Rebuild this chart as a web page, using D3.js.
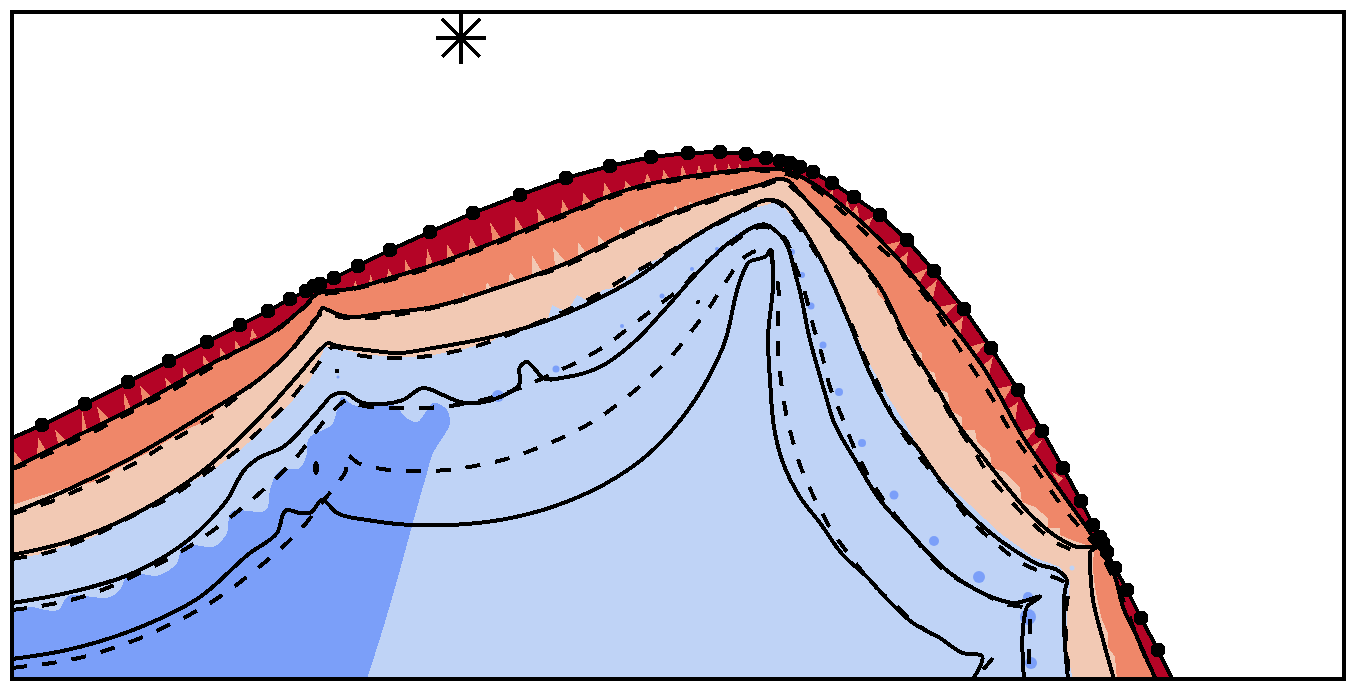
<!DOCTYPE html>
<html><head><meta charset="utf-8">
<script src="https://cdn.jsdelivr.net/npm/d3@7"></script>
<style>html,body{margin:0;padding:0;background:#fff}svg{display:block}</style>
</head><body><svg id="c" width="1357" height="691"></svg>
<script>
// Data, in plot units
const xDomain=[12,1344], yDomain=[679,12];
const starPoint=[461,38];
const starArms=[[-25,0,25,0],[0,-26,0,26],[-19,-19,19,19],[-19,19,19,-19]];
const surfaceDots=[[42,425],[85,404],[128,382],[169,361],[207,342],[240,325],[268,311],[290,299],[306,291],[314,286],[320,284],[334,278],[358,266],[390,250],[430,232],[473,213],[520,195],[566,178],[610,166],[651,157],[688,153],[720,152],[746,154],[766,158],[780,161],[790,163],[800,167],[813,172],[832,183],[854,197],[880,215],[907,240],[934,271],[964,309],[991,348],[1018,390],[1042,431],[1063,468],[1081,501],[1093,525],[1100,537],[1103,543],[1107,552],[1115,568],[1127,590],[1141,618],[1158,650]];
const surfaceEnds=[[12,438],[1172,679]];
const solid1=[[12,469],[73,438],[133,408],[213,363],[273,332],[305,306],[317,294],[322,292],[330,291],[350,289],[390,278],[433,265],[500,240],[567,213],[633,188],[700,175],[767,169],[785,170],[793,173],[850,212],[890,250],[940,310],[983,367],[1023,437],[1067,500],[1093,537],[1115,577],[1123,607],[1137,637],[1153,673],[1156,679]];
const solid2=[[12,513],[67,490],[133,457],[200,417],[267,373],[300,340],[318,316],[323,308],[328,310],[337,314],[350,317],[377,314],[433,307],[500,287],[567,263],[633,230],[700,203],[760,185],[783,179],[790,182],[797,190],[840,237],[880,287],[907,340],[940,393],[957,423],[980,453],[1007,487],[1033,517],[1057,537],[1077,547],[1095,548],[1090,552],[1090,560],[1093,600],[1103,640],[1114,679]];
const solid3=[[12,555],[67,542],[133,515],[200,473],[267,410],[300,373],[323,347],[328,343],[334,345],[367,350],[400,353],[433,348],[500,335],[567,313],[633,280],[700,233],[733,215],[777,201],[786,206],[797,220],[823,263],[847,317],[873,380],[895,420],[917,447],[940,480],[963,507],[987,530],[1017,552],[1040,565],[1057,570],[1067,580],[1065,590],[1064,620],[1068,679]];
const solid4=[[12,603],[67,593],[133,573],[200,530],[227,500],[247,467],[257,459],[283,447],[310,420],[325,403],[330,397],[345,393],[360,402],[383,404],[403,400],[423,388],[443,395],[460,402],[500,397],[520,383],[520,367],[527,362],[533,367],[543,378],[567,377],[600,367],[633,343],[667,307],[700,270],[733,240],[767,225],[780,235],[797,280],[810,340],[827,400],[833,420],[857,463],[880,500],[910,533],[950,573],[973,588],[1000,600],[1013,603],[1040,597],[1027,607],[1024,620],[1024,679]];
const solid5=[[12,659],[67,650],[133,630],[200,597],[250,553],[277,533],[287,510],[300,513],[310,513],[322,500],[337,513],[367,520],[410,525],[450,525],[500,520],[555,506],[605,484],[645,457],[663,440],[695,400],[723,347],[743,273],[748,263],[767,255],[770,250],[773,270],[768,340],[770,380],[775,433],[782,460],[800,497],[820,523],[843,555],[867,577],[890,602],[913,623],[940,638],[963,653],[982,656],[973,679]];
const dash1=[[12,469],[18,467],[48,454],[77,440],[105,426],[133,411],[162,396],[190,380],[217,364],[243,347],[270,335],[300,311],[318,296],[340,292],[390,280],[433,267],[500,242],[567,215],[633,190],[700,177],[767,171],[790,175],[845,214],[885,252],[903,267],[922,292],[940,317],[957,345],[975,372],[992,398],[1008,427],[1026,453],[1043,479],[1062,506],[1082,530],[1097,548],[1115,582],[1126,607],[1138,640],[1155,678]];
const dash2=[[12,514],[18,512],[50,502],[78,490],[108,477],[137,462],[163,446],[192,429],[218,412],[243,392],[268,372],[292,350],[312,322],[325,312],[340,317],[370,318],[402,314],[433,308],[463,300],[493,289],[567,265],[633,232],[700,205],[760,187],[783,181],[797,192],[840,240],[880,290],[907,343],[940,397],[955,423],[972,448],[989,475],[1009,499],[1032,523],[1057,543],[1083,554]];
const dash3=[[12,559],[18,558],[50,552],[80,541],[110,528],[138,513],[167,499],[193,482],[220,463],[245,444],[268,422],[290,400],[310,375],[325,355],[331,348],[357,355],[388,358],[420,357],[452,352],[483,344],[513,333],[537,323],[572,308],[600,293],[628,276],[655,261],[682,244],[710,228],[730,218],[777,202],[797,225],[812,247],[827,272],[840,300],[853,328],[865,358],[880,388],[893,417],[918,455],[947,490],[968,518],[992,540],[1017,560],[1045,574],[1065,583],[1065,620],[1066,637],[1069,679]];
const dash4=[[12,610],[20,609],[52,604],[82,597],[112,586],[142,572],[170,558],[198,541],[223,523],[248,503],[272,482],[295,459],[315,433],[335,409],[347,400],[360,405],[393,408],[425,408],[457,405],[490,398],[520,388],[550,375],[577,362],[605,346],[630,327],[656,307],[682,287],[703,265],[727,247],[767,227],[782,235],[795,265],[805,293],[813,325],[822,355],[830,387],[842,417],[853,445],[868,475],[885,502],[905,527],[948,573],[977,590],[1005,604],[1027,610],[1030,627],[1029,655],[1030,679]];
const dash5=[[12,668],[20,667],[52,663],[83,657],[113,648],[143,637],[173,623],[202,608],[228,591],[253,572],[278,551],[302,528],[320,505],[340,480],[345,473],[347,455],[358,463],[382,469],[413,471],[447,470],[480,465],[510,458],[540,447],[568,435],[597,419],[622,401],[647,380],[670,358],[690,333],[709,308],[727,280],[746,256],[760,250],[770,252],[772,262],[778,285],[778,317],[778,348],[781,381],[786,413],[792,438],[803,473],[817,503],[832,531],[851,557],[871,582],[894,604],[918,625],[935,636]];
const dash5Tail=[[993,658],[983,670]];
const peachEdge=[[12,505],[33,498],[60,490],[93,482],[120,467],[147,453],[180,433],[207,420],[223,403],[257,382],[287,357],[317,320],[324,308],[337,313],[350,317],[377,314],[433,307],[500,287],[567,263],[633,230],[700,203],[760,185],[783,178],[823,220],[840,240],[853,253],[860,265],[875,280],[878,295],[895,310],[898,328],[910,337],[910,347],[922,353],[923,368],[935,373],[937,388],[948,393],[950,410],[962,417],[962,430],[975,430],[977,442],[990,453],[992,468],[1005,472],[1020,488],[1022,502],[1035,507],[1048,518],[1048,528],[1060,528],[1060,535],[1077,542],[1095,548],[1093,560],[1093,570],[1095,587],[1098,603],[1102,620],[1108,633],[1108,647],[1115,657],[1117,679]];
const paleEdge=[[12,558],[37,555],[63,547],[93,537],[120,523],[150,505],[180,488],[213,470],[240,450],[263,430],[287,407],[310,380],[318,363],[325,347],[337,348],[367,355],[410,357],[433,355],[460,350],[490,342],[503,335],[523,327],[547,322],[552,305],[567,312],[577,295],[590,302],[603,290],[617,287],[640,267],[660,258],[672,248],[690,238],[700,230],[717,223],[747,210],[777,202],[778,200],[797,223],[817,250],[835,283],[847,313],[860,343],[873,370],[890,400],[903,420],[920,450],[940,478],[970,505],[1000,533],[1033,557],[1060,567],[1070,583],[1067,613],[1067,653],[1073,679]];
const blueEdge=[[12,613],[33,607],[45,610],[58,610],[67,597],[93,597],[107,598],[120,590],[127,575],[160,575],[177,563],[182,547],[217,545],[227,533],[230,513],[267,509],[270,490],[280,470],[300,468],[307,453],[308,440],[333,423],[337,410],[342,397],[353,405],[367,406],[397,407],[405,417],[417,422],[427,410],[433,403],[447,410],[450,423],[443,437],[433,453],[427,473],[415,515],[400,570],[385,622],[367,679]];
const orangeTeeth=[[[13,450],[13,465],[25,460]],[[38,437],[37,455],[47,447]],[[55,430],[59,443],[68,438]],[[82,410],[82,432],[88,429]],[[97,407],[102,423],[112,417]],[[124,393],[125,412],[133,407]],[[140,385],[143,400],[152,393]],[[165,377],[167,388],[175,383]],[[183,367],[183,378],[192,375]],[[203,355],[204,367],[212,362]],[[220,347],[220,355],[227,352]],[[235,340],[235,346],[241,343]],[[252,328],[250,335],[257,332]],[[355,280],[353,286],[359,285]],[[370,274],[369,282],[375,280]],[[388,268],[387,276],[394,273]],[[405,259],[405,270],[412,267]],[[427,248],[426,263],[433,259]],[[447,244],[447,256],[456,253]],[[470,235],[469,247],[478,244]],[[490,222],[493,239],[502,235]],[[515,216],[515,230],[524,225]],[[537,208],[539,221],[548,217]],[[562,199],[561,213],[571,209]],[[583,192],[582,205],[593,200]],[[604,182],[603,196],[614,192]],[[625,180],[624,190],[635,186]],[[647,173],[643,183],[653,181]],[[663,169],[662,179],[672,177]],[[682,165],[680,174],[688,173]],[[699,164],[696,172],[703,171]],[[715,162],[713,170],[718,169]],[[728,163],[727,168],[733,168]],[[740,163],[737,167],[743,167]],[[833,190],[827,190],[833,197]],[[847,200],[845,203],[852,208]],[[857,205],[852,207],[860,215]],[[873,217],[862,217],[868,223]],[[901,241],[885,240],[893,248]],[[908,252],[898,255],[906,264]],[[928,268],[912,270],[918,280]],[[937,280],[923,287],[932,298]],[[958,303],[933,303],[942,313]],[[963,317],[948,323],[960,337]],[[987,342],[964,343],[973,353]],[[993,357],[980,363],[988,375]],[[1013,385],[992,385],[1003,397]],[[1018,402],[1007,405],[1015,417]],[[1037,427],[1020,427],[1027,435]],[[1042,440],[1030,442],[1035,447]],[[1063,478],[1052,467],[1058,478]]];
const peachTeeth=[[[463,292],[462,297],[468,294]],[[487,282],[485,288],[493,287]],[[510,272],[508,280],[517,277]],[[532,255],[532,272],[542,268]],[[553,247],[555,262],[565,257]],[[578,242],[578,253],[587,250]],[[598,235],[598,245],[607,241]],[[620,227],[618,235],[630,232]],[[640,219],[637,226],[647,223]],[[658,213],[655,218],[663,217]],[[675,205],[672,211],[680,208]],[[690,201],[687,206],[695,204]],[[717,192],[713,197],[722,194]],[[732,188],[728,192],[735,191]]];
const toothRoots={orange:5,peach:4};
const blueDots=[[498,396,6],[556,369,3.5],[662,296,2.5],[622,326,2],[692,269,2],[717,249,2],[737,236,2],[758,225,2],[792,252,3],[802,275,3],[811,306,3.5],[823,345,3.5],[839,392,4],[862,443,4],[894,495,4.5],[934,541,5],[979,577,6],[1028,597,5],[1028,617,8],[1031,663,6],[338,377,1.5]];
const paleDots=[[1072,568,2.5]];
const specks=[[337,371,2.5,2.5],[698,302,2,2],[316,468,3,7]];
const colors={red:"#b40426",orange:"#ef8769",peach:"#f2c9b4",pale:"#bfd3f6",blue:"#7b9ff9"};

const x=d3.scaleLinear().domain(xDomain).range([12,1344]);
const y=d3.scaleLinear().domain(yDomain).range([679,12]);
const svg=d3.select("#c");
svg.append("defs").append("clipPath").attr("id","p").append("rect").attr("x",12).attr("y",12).attr("width",1332).attr("height",667);
const g=svg.append("g").attr("clip-path","url(#p)").attr("shape-rendering","crispEdges");
const poly=d3.line().x(d=>x(d[0])).y(d=>y(d[1]));
const smooth=d3.line().x(d=>x(d[0])).y(d=>y(d[1])).curve(d3.curveCatmullRom.alpha(1));
const surface=[surfaceEnds[0],...surfaceDots,surfaceEnds[1]];
const close=e=>[...e,[e[e.length-1][0],679],[12,679]];
const tooth=(t,r)=>poly([t[0],[t[1][0],t[1][1]+r],[t[2][0],t[2][1]+r]])+"Z";
g.append("path").attr("d",poly(close(surface))).attr("fill",colors.red);
g.append("path").attr("d",poly(close(solid1))+"Z").attr("fill",colors.orange);
g.selectAll(".ot").data(orangeTeeth).join("path").attr("d",d=>tooth(d,toothRoots.orange)).attr("fill",colors.orange);
g.append("path").attr("d",poly(close(peachEdge))+"Z").attr("fill",colors.peach);
g.selectAll(".pt").data(peachTeeth).join("path").attr("d",d=>tooth(d,toothRoots.peach)).attr("fill",colors.peach);
g.append("path").attr("d",poly(close(paleEdge))+"Z").attr("fill",colors.pale);
g.append("path").attr("d",smooth(close(blueEdge))+"Z").attr("fill",colors.blue);
g.selectAll(".bd").data(blueDots).join("circle").attr("cx",d=>x(d[0])).attr("cy",d=>y(d[1])).attr("r",d=>d[2]).attr("fill",colors.blue).attr("shape-rendering","auto");
g.selectAll(".pd").data(paleDots).join("circle").attr("cx",d=>x(d[0])).attr("cy",d=>y(d[1])).attr("r",d=>d[2]).attr("fill",colors.pale).attr("shape-rendering","auto");
[dash1,dash2,dash3,dash4,dash5,dash5Tail].forEach(l=>g.append("path").attr("d",smooth(l)).attr("fill","none").attr("stroke","#000").attr("stroke-width",4).attr("stroke-dasharray","15 15"));
[solid1,solid2,solid3,solid4,solid5].forEach(l=>g.append("path").attr("d",smooth(l)).attr("fill","none").attr("stroke","#000").attr("stroke-width",4));
g.append("path").attr("d",poly(surface)).attr("fill","none").attr("stroke","#000").attr("stroke-width",4);
g.selectAll(".sd").data(surfaceDots).join("circle").attr("cx",d=>x(d[0])).attr("cy",d=>y(d[1])).attr("r",7.5).attr("fill","#000");
g.selectAll(".sp").data(specks).join("ellipse").attr("cx",d=>x(d[0])).attr("cy",d=>y(d[1])).attr("rx",d=>d[2]).attr("ry",d=>d[3]).attr("fill","#000");
svg.append("g").selectAll("line").data(starArms).join("line")
 .attr("x1",d=>x(starPoint[0])+d[0]).attr("y1",d=>y(starPoint[1])+d[1]).attr("x2",d=>x(starPoint[0])+d[2]).attr("y2",d=>y(starPoint[1])+d[3])
 .attr("stroke","#000").attr("stroke-width",4).attr("shape-rendering","crispEdges");
svg.append("rect").attr("x",12).attr("y",12).attr("width",1332).attr("height",667).attr("fill","none").attr("stroke","#000").attr("stroke-width",4).attr("shape-rendering","crispEdges");
</script></body></html>
